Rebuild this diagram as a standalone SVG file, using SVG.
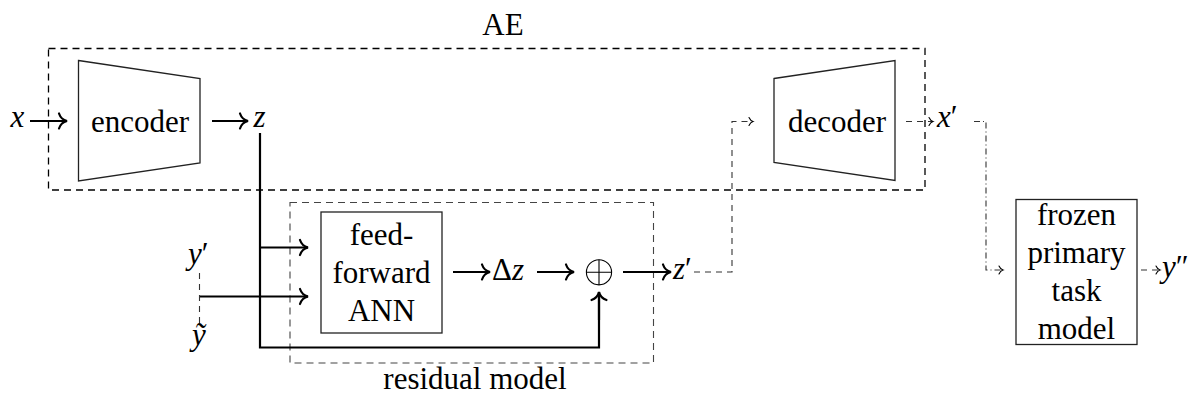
<svg xmlns="http://www.w3.org/2000/svg" width="1196" height="406" viewBox="0 0 1196 406" font-family="Liberation Serif, serif" font-size="31">
  <defs>
    <style>
      .frame { fill: none; stroke: #000; stroke-width: 1.3; stroke-dasharray: 7 5; }
      .frame-thin { fill: none; stroke: #444; stroke-width: 1.1; stroke-dasharray: 7 5; }
      .block { fill: #fff; stroke: #222; stroke-width: 1.3; }
      .flow { fill: none; stroke: #000; stroke-width: 2.2; marker-end: url(#head); }
      .plain { fill: none; stroke: #000; stroke-width: 2.2; }
      .dash { fill: none; stroke: #333; stroke-width: 1.1; stroke-dasharray: 6 5; }
      .dashdot { fill: none; stroke: #333; stroke-width: 1.1; stroke-dasharray: 6 3 1 3; }
      .tip { marker-end: url(#chev); }
    </style>
    <marker id="head" markerUnits="userSpaceOnUse" viewBox="-10 -9 12 18" refX="0" refY="0" markerWidth="12" markerHeight="18" orient="auto" overflow="visible">
      <path d="M -8,-7.5 C -6.5,-3 -2.5,-0.6 0,0 C -2.5,0.6 -6.5,3 -8,7.5" fill="none" stroke="#000" stroke-width="2.2" stroke-linecap="round"/>
    </marker>
    <marker id="chev" markerUnits="userSpaceOnUse" viewBox="-6 -5 8 10" refX="0" refY="0" markerWidth="8" markerHeight="10" orient="auto" overflow="visible">
      <path d="M -4,-4 C -3,-1.8 -1.2,-0.4 0,0 C -1.2,0.4 -3,1.8 -4,4" fill="none" stroke="#000" stroke-width="1.1" stroke-linecap="round"/>
    </marker>
  </defs>

  <!-- grouping frames -->
  <g id="ae-frame">
    <rect class="frame" x="48.5" y="48.5" width="876.5" height="141.5"/>
    <text x="503" y="35" font-family="Liberation Serif, serif" text-anchor="middle">AE</text>
  </g>
  <g id="residual-frame">
    <rect class="frame-thin" x="290" y="202.5" width="363.5" height="160.5"/>
    <text x="475" y="389" font-family="Liberation Serif, serif" text-anchor="middle">residual model</text>
  </g>

  <!-- connectors -->
  <g id="connectors">
    <path class="flow" d="M 30,121 L 67,121"/>
    <path class="flow" d="M 212,121 L 248,121"/>
    <path class="plain" d="M 260,133 L 260,347.5 L 599,347.5 L 599,296"/>
    <path class="flow" d="M 599,320 L 599,292"/>
    <path class="flow" d="M 260,247.5 L 308,247.5"/>
    <path class="flow" d="M 199.5,296.5 L 308,296.5"/>
    <path class="flow" d="M 453,272 L 490,272"/>
    <path class="flow" d="M 537,272 L 574,272"/>
    <path class="flow" d="M 623,272 L 671,272"/>
    <path class="dash" d="M 199.5,273 L 199.5,327"/>
    <path class="dash tip" d="M 694,272 L 732,272 L 732,121.5 L 753,121.5"/>
    <path class="dash tip" d="M 906,121.5 L 933,121.5"/>
    <path class="dashdot tip" d="M 974,121.5 L 986,121.5 L 986,270 L 1003,270"/>
    <path class="dash tip" d="M 1141,270 L 1160,270"/>
  </g>

  <!-- nodes -->
  <g id="x-in"><text x="17.5" y="127" font-family="Liberation Serif, serif" font-style="italic" text-anchor="middle">x</text></g>
  <g id="encoder">
    <polygon class="block" points="78.5,60.5 200,78.5 200,163 78.5,181"/>
    <text x="140" y="132" font-family="Liberation Serif, serif" text-anchor="middle">encoder</text>
  </g>
  <g id="z"><text x="259.5" y="127" font-family="Liberation Serif, serif" font-style="italic" text-anchor="middle">z</text></g>
  <g id="decoder">
    <polygon class="block" points="774,78.5 895,60.5 895,180.5 774,162.5"/>
    <text x="837" y="132" font-family="Liberation Serif, serif" text-anchor="middle">decoder</text>
  </g>
  <g id="x-prime"><text x="937" y="127" font-family="Liberation Serif, serif"><tspan font-style="italic">x</tspan>′</text></g>
  <g id="y-prime"><text x="188" y="264" font-family="Liberation Serif, serif"><tspan font-style="italic">y</tspan>′</text></g>
  <g id="y-tilde"><text x="199" y="345" font-family="Liberation Serif, serif" font-style="italic" text-anchor="middle">ỹ</text></g>
  <g id="ffann">
    <rect class="block" x="321" y="212" width="121" height="121"/>
    <text x="381.5" y="245" font-family="Liberation Serif, serif" text-anchor="middle">feed-</text>
    <text x="381.5" y="283" font-family="Liberation Serif, serif" text-anchor="middle">forward</text>
    <text x="381.5" y="321" font-family="Liberation Serif, serif" text-anchor="middle">ANN</text>
  </g>
  <g id="delta-z"><text x="492" y="280" font-family="Liberation Serif, serif">Δ<tspan font-style="italic">z</tspan></text></g>
  <g id="sum">
    <circle cx="599" cy="272.3" r="12.6" fill="#fff" stroke="#000" stroke-width="1.1"/>
    <path d="M 586.4,272.3 L 611.6,272.3 M 599,259.7 L 599,284.9" stroke="#000" stroke-width="1.1"/>
  </g>
  <g id="z-prime"><text x="673" y="279" font-family="Liberation Serif, serif"><tspan font-style="italic">z</tspan>′</text></g>
  <g id="frozen">
    <rect class="block" x="1016" y="199.5" width="121" height="145"/>
    <text x="1076.5" y="225" font-family="Liberation Serif, serif" text-anchor="middle">frozen</text>
    <text x="1076.5" y="263" font-family="Liberation Serif, serif" text-anchor="middle">primary</text>
    <text x="1076.5" y="301" font-family="Liberation Serif, serif" text-anchor="middle">task</text>
    <text x="1076.5" y="339" font-family="Liberation Serif, serif" text-anchor="middle">model</text>
  </g>
  <g id="y-out"><text x="1162" y="277" font-family="Liberation Serif, serif"><tspan font-style="italic">y</tspan>″</text></g>
</svg>
